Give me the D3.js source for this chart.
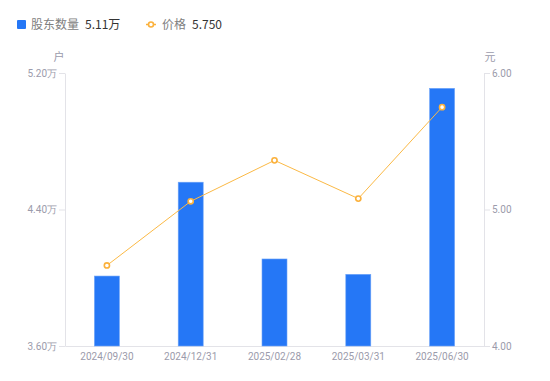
<!DOCTYPE html>
<html>
<head>
<meta charset="utf-8">
<script src="https://cdn.jsdelivr.net/npm/d3@7"></script>
<style>
  body { margin: 0; background: #fff; }
  svg { display: block; font-family: "Noto Sans CJK SC", "Noto Sans", sans-serif; }
</style>
</head>
<body>
<div id="chart"></div>
<script>
// data
const dates = ["2024/09/30", "2024/12/31", "2025/02/28", "2025/03/31", "2025/06/30"]
const holders = [4.01, 4.56, 4.11, 4.02, 5.11]   // 万户
const prices = [4.59, 5.06, 5.36, 5.08, 5.75]    // 元
const leftTicks = [3.6, 4.4, 5.2]
const rightTicks = [4, 5, 6]

const W = 550, H = 381
const m = { top: 73, right: 66, bottom: 35, left: 65 }

const svg = d3.select("#chart")
  .append("svg")
    .attr("width", W)
    .attr("height", H)

const x = d3.scaleBand()
  .domain(dates)
  .range([m.left, W - m.right])

const yL = d3.scaleLinear()
  .domain([3.6, 5.2])
  .range([H - m.bottom, m.top])

const yR = d3.scaleLinear()
  .domain([4, 6])
  .range([H - m.bottom, m.top])

const axisColor = "#e3e3e8"
const labelColor = "#9b9bab"

// left axis
const gL = svg.append("g")
  .attr("transform", `translate(${m.left},0)`)
  .call(d3.axisLeft(yL).tickValues(leftTicks).tickSize(6).tickSizeOuter(0).tickPadding(2)
    .tickFormat(d => d3.format(".2f")(d) + "万"))
// right axis
const gR = svg.append("g")
  .attr("transform", `translate(${W - m.right},0)`)
  .call(d3.axisRight(yR).tickValues(rightTicks).tickSize(6).tickSizeOuter(0).tickPadding(2)
    .tickFormat(d3.format(".2f")))
// bottom axis
const gB = svg.append("g")
  .attr("transform", `translate(0,${H - m.bottom})`)
  .call(d3.axisBottom(x).tickSize(0).tickPadding(7))

;[gL, gR, gB].forEach(g => {
  g.select(".domain").attr("stroke", axisColor)
  g.selectAll(".tick line").attr("stroke", axisColor)
  g.selectAll(".tick text")
    .attr("fill", labelColor)
    .attr("font-size", 10)
    .attr("font-family", "Roboto, 'Noto Sans', sans-serif")
})

// unit labels
svg.append("text")
  .attr("x", 59).attr("y", 61)
  .attr("text-anchor", "middle")
  .attr("font-size", 11)
  .attr("fill", labelColor)
  .text("户")
svg.append("text")
  .attr("x", 490).attr("y", 61)
  .attr("text-anchor", "middle")
  .attr("font-size", 11)
  .attr("fill", labelColor)
  .text("元")

// bars
const barW = 25
svg.selectAll("rect.bar")
  .data(holders)
  .enter()
  .append("rect")
    .attr("class", "bar")
    .attr("x", (d, i) => x(dates[i]) + x.bandwidth() / 2 - barW / 2)
    .attr("y", d => yL(d))
    .attr("width", barW)
    .attr("height", d => yL(3.6) - yL(d))
    .attr("fill", "#2577f6")
    .attr("stroke", "#6ea4f8")
    .attr("stroke-width", 0.6)

// price line
const line = d3.line()
  .x((d, i) => x(dates[i]) + x.bandwidth() / 2)
  .y(d => yR(d))

svg.append("path")
  .datum(prices)
  .attr("d", line)
  .attr("fill", "none")
  .attr("stroke", "#fbb945")
  .attr("stroke-width", 1)

svg.selectAll("circle.pt")
  .data(prices)
  .enter()
  .append("circle")
    .attr("class", "pt")
    .attr("cx", (d, i) => x(dates[i]) + x.bandwidth() / 2)
    .attr("cy", d => yR(d))
    .attr("r", 2.6)
    .attr("fill", "#fff")
    .attr("stroke", "#fbb13c")
    .attr("stroke-width", 1.6)

// legend
const lg = svg.append("g")
lg.append("rect")
  .attr("x", 17).attr("y", 20)
  .attr("width", 9).attr("height", 9)
  .attr("rx", 1)
  .attr("fill", "#2577f6")
lg.append("text")
  .attr("x", 31).attr("y", 29)
  .attr("font-size", 12)
  .attr("fill", "#808080")
  .text("股东数量")
lg.append("text")
  .attr("x", 85).attr("y", 29)
  .attr("font-size", 12)
  .attr("fill", "#333")
  .text(d3.format(".2f")(holders[holders.length - 1]) + "万")

lg.append("line")
  .attr("x1", 146).attr("x2", 156)
  .attr("y1", 24.5).attr("y2", 24.5)
  .attr("stroke", "#fbb13c")
  .attr("stroke-width", 1.5)
lg.append("circle")
  .attr("cx", 151).attr("cy", 24.5)
  .attr("r", 2.5)
  .attr("fill", "#fff")
  .attr("stroke", "#fbb13c")
  .attr("stroke-width", 1.6)
lg.append("text")
  .attr("x", 162).attr("y", 29)
  .attr("font-size", 12)
  .attr("fill", "#808080")
  .text("价格")
lg.append("text")
  .attr("x", 192).attr("y", 29)
  .attr("font-size", 12)
  .attr("fill", "#333")
  .text(d3.format(".3f")(prices[prices.length - 1]))
</script>
</body>
</html>
